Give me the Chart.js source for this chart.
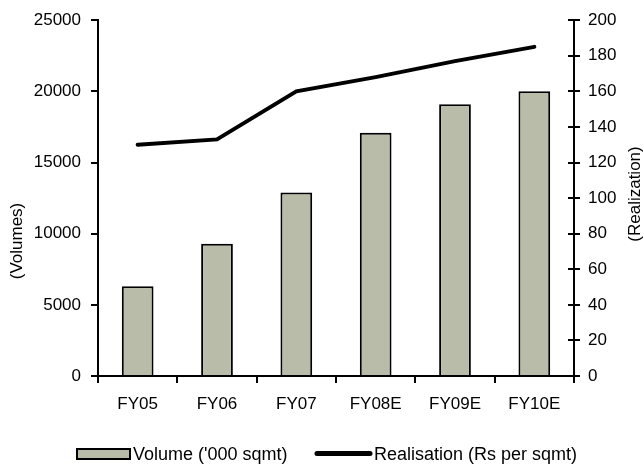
<!DOCTYPE html>
<html>
<head>
<meta charset="utf-8">
<script src="https://cdn.jsdelivr.net/npm/chart.js@4.4.1/dist/chart.umd.min.js"></script>
<style>
  html, body { margin: 0; padding: 0; background: #fff; }
  #wrap { width: 644px; height: 468px; position: relative; }
</style>
</head>
<body>
<div id="wrap"><canvas id="c" width="644" height="468"></canvas></div>
<script>
const categories = ["FY05", "FY06", "FY07", "FY08E", "FY09E", "FY10E"];
const volumes = [6300, 9300, 12900, 17100, 19100, 20000];
const realisation = [130, 133, 160, 168, 177, 185];
const volumeLabel = "Volume ('000 sqmt)";
const realisationLabel = "Realisation (Rs per sqmt)";
const leftTitle = "(Volumes)";
const rightTitle = "(Realization)";

const FONT = "'Liberation Sans', Arial, sans-serif";
Chart.defaults.font.family = FONT;
Chart.defaults.font.size = 17;
Chart.defaults.color = '#000';

const extras = {
  id: 'extras',
  afterDraw(chart) {
    const ctx = chart.ctx;
    const y1 = chart.scales.y1;
    ctx.save();
    // inner tick marks on the right axis
    ctx.strokeStyle = '#000';
    ctx.lineWidth = 2;
    y1.ticks.forEach((t) => {
      const py = Math.round(y1.getPixelForValue(t.value));
      ctx.beginPath();
      ctx.moveTo(y1.left - 6, py);
      ctx.lineTo(y1.left, py);
      ctx.stroke();
    });
    // axis titles
    ctx.fillStyle = '#000';
    ctx.font = "17px " + FONT;
    ctx.textAlign = 'center';
    ctx.textBaseline = 'middle';
    ctx.save();
    ctx.translate(17, 241);
    ctx.rotate(-Math.PI / 2);
    ctx.fillText(leftTitle, 0, 0);
    ctx.restore();
    ctx.save();
    ctx.translate(635, 194);
    ctx.rotate(-Math.PI / 2);
    ctx.fillText(rightTitle, 0, 0);
    ctx.restore();
    // legend
    const barDs = chart.data.datasets.find(d => d.type === 'bar');
    const lineDs = chart.data.datasets.find(d => d.type === 'line');
    ctx.font = "18px " + FONT;
    ctx.fillStyle = barDs.backgroundColor;
    ctx.fillRect(77, 449, 53, 10);
    ctx.strokeStyle = barDs.borderColor;
    ctx.lineWidth = 2;
    ctx.strokeRect(77, 449, 53, 10);
    ctx.fillStyle = '#000';
    ctx.textAlign = 'left';
    ctx.fillText(barDs.label, 133, 455);
    ctx.strokeStyle = lineDs.borderColor;
    ctx.lineWidth = 5;
    ctx.lineCap = 'round';
    ctx.beginPath();
    ctx.moveTo(317, 453.5);
    ctx.lineTo(370, 453.5);
    ctx.stroke();
    ctx.fillText(lineDs.label, 374, 455);
    ctx.restore();
  }
};

new Chart(document.getElementById('c'), {
  data: {
    labels: categories,
    datasets: [
      {
        type: 'line',
        label: realisationLabel,
        data: realisation,
        yAxisID: 'y1',
        borderColor: '#000',
        backgroundColor: '#000',
        borderWidth: 4,
        pointRadius: 0,
        tension: 0,
        borderCapStyle: 'round',
        order: 0
      },
      {
        type: 'bar',
        label: volumeLabel,
        data: volumes,
        yAxisID: 'y',
        backgroundColor: '#B8BCA8',
        borderColor: '#000',
        borderWidth: 2,
        barPercentage: 0.4,
        categoryPercentage: 1.0,
        order: 1
      }
    ]
  },
  options: {
    responsive: false,
    devicePixelRatio: 1,
    animation: false,
    layout: { padding: { top: 20, left: 0, right: 0, bottom: 42 } },
    plugins: { legend: { display: false }, tooltip: { enabled: false } },
    scales: {
      x: {
        offset: true,
        grid: { display: true, offset: true, drawOnChartArea: false, drawTicks: true, tickLength: 7, color: '#000', lineWidth: 2 },
        border: { display: true, color: '#000', width: 2 },
        ticks: { padding: 11, maxRotation: 0, autoSkip: false },
        afterFit(s) { s.height = 50; }
      },
      y: {
        position: 'left',
        min: 0, max: 25000,
        ticks: { stepSize: 5000, padding: 10, callback: (v) => String(v) },
        grid: { display: true, drawOnChartArea: false, drawTicks: true, tickLength: 7, color: '#000', lineWidth: 2 },
        border: { display: true, color: '#000', width: 2 },
        afterFit(s) { s.width = 98; }
      },
      y1: {
        position: 'right',
        min: 0, max: 200,
        ticks: { stepSize: 20, padding: 8, callback: (v) => String(v) },
        grid: { display: true, drawOnChartArea: false, drawTicks: true, tickLength: 6, color: '#000', lineWidth: 2 },
        border: { display: true, color: '#000', width: 2 },
        afterFit(s) { s.width = 70; }
      }
    }
  },
  plugins: [extras]
});
</script>
</body>
</html>
